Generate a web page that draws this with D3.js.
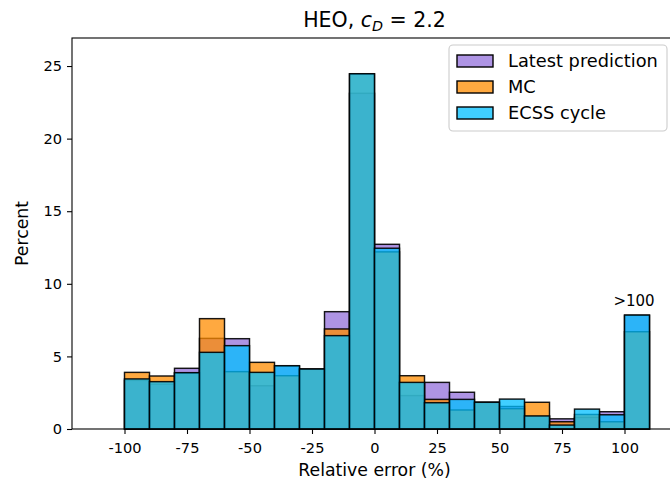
<!DOCTYPE html>
<html>
<head>
<meta charset="utf-8">
<script src="https://cdn.jsdelivr.net/npm/d3@7"></script>
<style>
  html, body { margin: 0; padding: 0; background: #fff; }
  svg { display: block; font-family: "DejaVu Sans", sans-serif; }
</style>
</head>
<body>
<svg id="chart" width="670" height="487"></svg>
<script>
// Histogram bins: left edges, width 10 (%), last bin collects errors > 100 %
const binStarts = [-110, -100, -90, -80, -70, -60, -50, -40, -30, -20, -10, 0, 10, 20, 30, 40, 50, 60, 70, 80, 90, 100];
const binWidth = 10;

// Percent of cases per bin for each method
const latestPrediction = [0, 3.35, 3.08, 4.18, 6.24, 6.22, 2.98, 4.33, 4.12, 8.08, 23.12, 12.72, 2.30, 3.21, 2.53, 1.83, 1.55, 0.88, 0.70, 0.80, 1.19, 7.83];
const mcValues         = [0, 3.90, 3.65, 3.86, 7.60, 3.95, 4.59, 3.67, 4.13, 6.89, 24.45, 12.20, 3.67, 2.04, 1.31, 1.84, 1.40, 1.84, 0.50, 1.00, 0.50, 6.70];
const ecssCycle        = [0, 3.45, 3.26, 3.88, 5.28, 5.74, 3.90, 4.36, 4.13, 6.43, 24.47, 12.45, 3.21, 1.81, 2.04, 1.84, 2.06, 0.90, 0.27, 1.37, 0.98, 7.85];

const seriesNames  = ["Latest prediction", "MC", "ECSS cycle"];
const seriesColors = ["#9370DB", "#FF8C00", "#00BFFF"];
const seriesValues = [latestPrediction, mcValues, ecssCycle];

const xTickValues = [-100, -75, -50, -25, 0, 25, 50, 75, 100];
const yTickValues = [0, 5, 10, 15, 20, 25];

const svg = d3.select("#chart");
const plotLeft = 72, plotRight = 677, plotTop = 38, plotBottom = 429;

const x = d3.scaleLinear().domain([-121, 121]).range([plotLeft, plotRight]);
const y = d3.scaleLinear().domain([0, 26.93]).range([plotBottom, plotTop]);

// Bars: one layer per method, drawn in legend order
seriesValues.forEach((vals, si) => {
  svg.append("g")
    .selectAll("rect")
    .data(binStarts.map((b, i) => ({ b, v: vals[i] })))
    .join("rect")
    .attr("x", d => x(d.b))
    .attr("width", d => x(d.b + binWidth) - x(d.b))
    .attr("y", d => y(d.v))
    .attr("height", d => y(0) - y(d.v))
    .attr("fill", seriesColors[si])
    .attr("fill-opacity", 0.75)
    .attr("stroke", "#000")
    .attr("stroke-opacity", 0.9)
    .attr("stroke-width", 1.45);
});

// Label for the overflow bin
const lastIdx = binStarts.length - 1;
const overflowTop = d3.max(seriesValues, s => s[lastIdx]);
svg.append("text")
  .attr("x", x(binStarts[lastIdx] + binWidth / 2) - 3)
  .attr("y", y(overflowTop) - 9)
  .attr("text-anchor", "middle")
  .attr("font-size", 15)
  .text(">100");

// Axes
const xAxis = d3.axisBottom(x).tickValues(xTickValues).tickSize(5).tickPadding(5)
  .tickFormat(d => String(d));
const yAxis = d3.axisLeft(y).tickValues(yTickValues).tickSize(5).tickPadding(5)
  .tickFormat(d => String(d));

const gx = svg.append("g").attr("transform", `translate(0,${plotBottom})`).call(xAxis);
const gy = svg.append("g").attr("transform", `translate(${plotLeft},0)`).call(yAxis);
[gx, gy].forEach(g => {
  g.select(".domain").remove();
  g.selectAll(".tick line").attr("stroke", "#000").attr("stroke-width", 1.1);
  g.selectAll(".tick text").attr("font-size", 14.6).attr("fill", "#000")
    .attr("font-family", "DejaVu Sans, sans-serif");
});
gx.selectAll(".tick text").attr("dy", "0.98em");

// Frame
svg.append("rect")
  .attr("x", plotLeft).attr("y", plotTop)
  .attr("width", plotRight - plotLeft).attr("height", plotBottom - plotTop)
  .attr("fill", "none").attr("stroke", "#000").attr("stroke-width", 1.1);

// Axis labels
svg.append("text")
  .attr("x", (plotLeft + plotRight) / 2).attr("y", 476)
  .attr("text-anchor", "middle").attr("font-size", 17.3)
  .text("Relative error (%)");
svg.append("text")
  .attr("transform", `translate(28,${(plotTop + plotBottom) / 2}) rotate(-90)`)
  .attr("text-anchor", "middle").attr("font-size", 17.3)
  .text("Percent");

// Title with math subscript
const title = svg.append("text")
  .attr("x", (plotLeft + plotRight) / 2).attr("y", 27)
  .attr("text-anchor", "middle").attr("font-size", 20.5);
title.append("tspan").text("HEO, ");
title.append("tspan").attr("font-style", "italic").text("c");
title.append("tspan").attr("font-style", "italic").attr("font-size", 14.3).attr("dy", 4).text("D");
title.append("tspan").attr("dy", -4).text(" = 2.2");

// Legend
const lg = svg.append("g");
lg.append("rect")
  .attr("x", 449).attr("y", 45).attr("width", 218).attr("height", 86)
  .attr("rx", 4).attr("ry", 4)
  .attr("fill", "#fff").attr("fill-opacity", 0.8)
  .attr("stroke", "#ccc").attr("stroke-width", 1.1);
seriesNames.forEach((name, i) => {
  const cy = 61 + i * 26;
  lg.append("rect")
    .attr("x", 457).attr("y", cy - 6).attr("width", 36).attr("height", 12)
    .attr("fill", seriesColors[i]).attr("fill-opacity", 0.75)
    .attr("stroke", "#000").attr("stroke-width", 1.4);
  lg.append("text")
    .attr("x", 508).attr("y", cy).attr("dy", "0.36em")
    .attr("font-size", 17.8)
    .text(name);
});
</script>
</body>
</html>
